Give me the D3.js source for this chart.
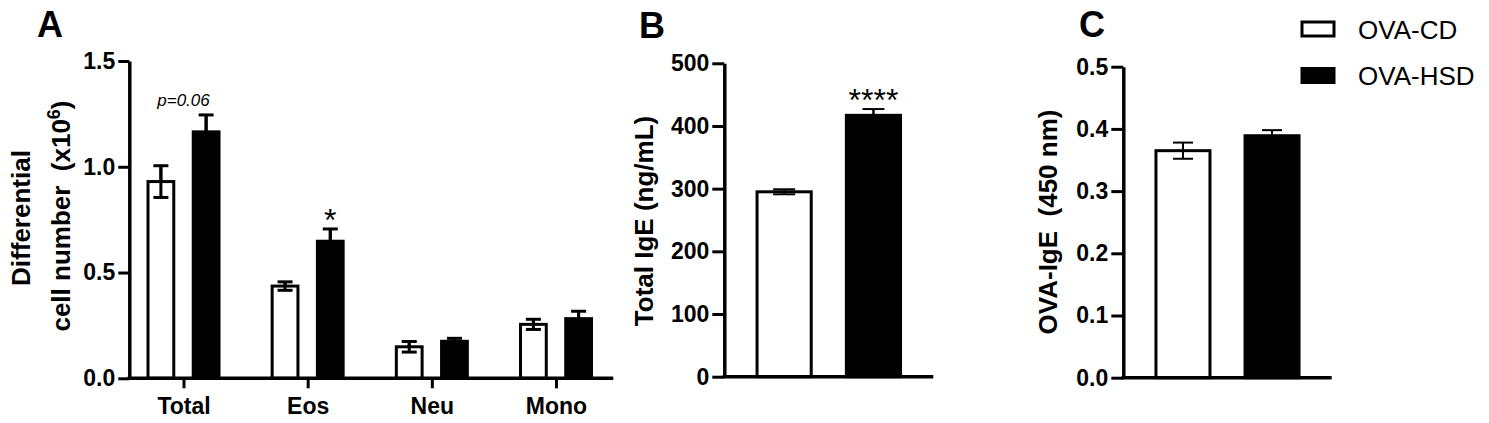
<!DOCTYPE html>
<html>
<head>
<meta charset="utf-8">
<script src="https://cdn.jsdelivr.net/npm/d3@7"></script>
<style>
  body { margin: 0; background: #fff; }
  text { font-family: "Liberation Sans", Arial, sans-serif; fill: #000; }
</style>
</head>
<body>
<div id="figure"></div>
<script>
// data
const groups = ["OVA-CD", "OVA-HSD"];

// panel A: differential cell number (x10^6)
const cellTypes = ["Total", "Eos", "Neu", "Mono"];
const cellCD = [0.93, 0.436, 0.149, 0.255];
const cellCDsem = [0.075, 0.02, 0.025, 0.024];
const cellHSD = [1.165, 0.648, 0.175, 0.282];
const cellHSDsem = [0.08, 0.058, 0.014, 0.035];
const cellTicks = [0, 0.5, 1.0, 1.5];

// panel B: total IgE (ng/mL)
const totalIgE = [295, 417];
const totalIgEsem = [4, 10];
const igeTicks = [0, 100, 200, 300, 400, 500];

// panel C: OVA-IgE (450 nm)
const ovaIgE = [0.365, 0.389];
const ovaIgEsem = [0.013, 0.009];
const ovaTicks = [0, 0.1, 0.2, 0.3, 0.4, 0.5];

const svgWidth = 1489;
const svgHeight = 423;
const fills = { "OVA-CD": "#fff", "OVA-HSD": "#000" };

const svg = d3.select("#figure")
    .append("svg")
    .attr("width", svgWidth)
    .attr("height", svgHeight);

// y axis + baseline shared by all three panels
function drawAxes(g, yScale, ticks, fmt, x0, x1, tickLen) {
    const yAxis = d3.axisLeft(yScale)
        .tickValues(ticks)
        .tickFormat(fmt)
        .tickSize(tickLen)
        .tickSizeOuter(0)
        .tickPadding(3);

    const ay = g.append("g")
        .attr("transform", `translate(${x0},0)`)
        .call(yAxis);
    ay.select(".domain").attr("stroke-width", 3.5);
    ay.selectAll(".tick line").attr("stroke-width", 3);
    ay.selectAll(".tick text")
        .style("font-size", "23px")
        .style("font-weight", "bold");

    g.append("line")
        .attr("x1", x0 - 1.75)
        .attr("x2", x1)
        .attr("y1", yScale(0))
        .attr("y2", yScale(0))
        .attr("stroke", "#000")
        .attr("stroke-width", 3.5);
}

function drawBar(g, cx, w, yScale, v, sem, grp, capW, errW) {
    // error bar first so the black bar hides its lower half
    g.append("line")
        .attr("x1", cx).attr("x2", cx)
        .attr("y1", yScale(v - sem)).attr("y2", yScale(v + sem))
        .attr("stroke", "#000").attr("stroke-width", errW);
    [v - sem, v + sem].forEach(e => {
        g.append("line")
            .attr("x1", cx - capW / 2).attr("x2", cx + capW / 2)
            .attr("y1", yScale(e)).attr("y2", yScale(e))
            .attr("stroke", "#000").attr("stroke-width", errW);
    });
    g.append("rect")
        .attr("x", cx - w / 2)
        .attr("y", yScale(v))
        .attr("width", w)
        .attr("height", yScale(0) - yScale(v))
        .attr("fill", grp === "OVA-CD" ? "none" : fills[grp])
        .attr("stroke", "#000")
        .attr("stroke-width", 3);
    // re-draw the upper error bar over the white bar's top edge
    g.append("line")
        .attr("x1", cx).attr("x2", cx)
        .attr("y1", yScale(v)).attr("y2", yScale(v + sem))
        .attr("stroke", "#000").attr("stroke-width", errW);
}

function yLabel(g, x, y, txt) {
    return g.append("text")
        .attr("transform", `translate(${x},${y}) rotate(-90)`)
        .attr("text-anchor", "middle")
        .style("font-size", "26px")
        .style("font-weight", "bold")
        .style("white-space", "pre")
        .text(txt);
}

function panelLetter(x, y, txt) {
    svg.append("text")
        .attr("x", x).attr("y", y)
        .style("font-size", "36px")
        .style("font-weight", "bold")
        .text(txt);
}

// -------------------- panel A: differential counts --------------------
const gA = svg.append("g");
const yA = d3.scaleLinear().domain([0, 1.5]).range([378.3, 61]);
const xA = d3.scalePoint().domain(cellTypes).range([183.5, 556]);
const xInner = d3.scaleBand().domain(groups).range([-35.5, 35.5]).paddingInner(0.43);

drawAxes(gA, yA, cellTicks, d3.format(".1f"), 129.3, 613.3, 11);

const xAxisA = d3.axisBottom(xA).tickSize(10).tickSizeOuter(0).tickPadding(9);
const axA = gA.append("g")
    .attr("transform", `translate(0,${yA(0)})`)
    .call(xAxisA);
axA.select(".domain").remove();
axA.selectAll(".tick line").attr("stroke-width", 3);
axA.selectAll(".tick text")
    .style("font-size", "23px")
    .style("font-weight", "bold");

cellTypes.forEach((c, i) => {
    const cxCD = xA(c) + xInner("OVA-CD") + xInner.bandwidth() / 2;
    const cxHSD = xA(c) + xInner("OVA-HSD") + xInner.bandwidth() / 2;
    drawBar(gA, cxCD, xInner.bandwidth(), yA, cellCD[i], cellCDsem[i], "OVA-CD", 15, 3);
    drawBar(gA, cxHSD, xInner.bandwidth(), yA, cellHSD[i], cellHSDsem[i], "OVA-HSD", 15, 3);
});

// significance marks
gA.append("text")
    .attr("x", xA("Total"))
    .attr("y", yA(cellHSD[0] + cellHSDsem[0]) - 9)
    .attr("text-anchor", "middle")
    .style("font-size", "17px")
    .style("font-style", "italic")
    .text("p=0.06");
gA.append("text")
    .attr("x", xA("Eos") + xInner("OVA-HSD") + xInner.bandwidth() / 2)
    .attr("y", yA(cellHSD[1] + cellHSDsem[1]) + 2)
    .attr("text-anchor", "middle")
    .style("font-size", "32px")
    .text("*");

yLabel(gA, 30, 218, "Differential");
const labA2 = yLabel(gA, 70, 216, "cell number  (x10");
labA2.append("tspan").attr("baseline-shift", "super").style("font-size", "18px").text("6");
labA2.append("tspan").text(")");

panelLetter(37, 36.7, "A");

// -------------------- panels B and C: two bars each --------------------
function twoBarPanel(x0, x1, yRange, domain, ticks, fmt, vals, sems, capW) {
    const g = svg.append("g");
    const y = d3.scaleLinear().domain(domain).range(yRange);
    const x = d3.scaleBand().domain(groups).range([x0, x1])
        .paddingInner(0.36).paddingOuter(0.35);
    drawAxes(g, y, ticks, fmt, x0, x1, 12);
    groups.forEach((grp, i) => {
        drawBar(g, x(grp) + x.bandwidth() / 2, x.bandwidth() - 3, y, vals[i], sems[i], grp, capW, 2);
    });
    return { g, x, y };
}

const pB = twoBarPanel(724.3, 933.3, [376.7, 63.3], [0, 500], igeTicks, d3.format("d"), totalIgE, totalIgEsem, 22);
pB.g.append("text")
    .attr("x", pB.x("OVA-HSD") + pB.x.bandwidth() / 2)
    .attr("y", pB.y(totalIgE[1] + totalIgEsem[1]) + 2)
    .attr("text-anchor", "middle")
    .style("font-size", "32px")
    .text("****");
yLabel(pB.g, 653, 221, "Total IgE (ng/mL)");
panelLetter(639, 37.5, "B");

const pC = twoBarPanel(1123.3, 1331.7, [377.7, 66.7], [0, 0.5], ovaTicks, d3.format(".1f"), ovaIgE, ovaIgEsem, 20);
yLabel(pC.g, 1056.5, 222, "OVA-IgE  (450 nm)");
panelLetter(1079, 36.7, "C");

// -------------------- legend --------------------
const legend = svg.append("g").attr("transform", "translate(1302,22)");
groups.forEach((grp, i) => {
    const row = legend.append("g").attr("transform", `translate(0,${i * 46.5})`);
    row.append("rect")
        .attr("width", 32).attr("height", 14)
        .attr("fill", fills[grp])
        .attr("stroke", "#000")
        .attr("stroke-width", 3);
    row.append("text")
        .attr("x", 56).attr("y", 16.5)
        .style("font-size", "26px")
        .text(grp);
});
</script>
</body>
</html>
